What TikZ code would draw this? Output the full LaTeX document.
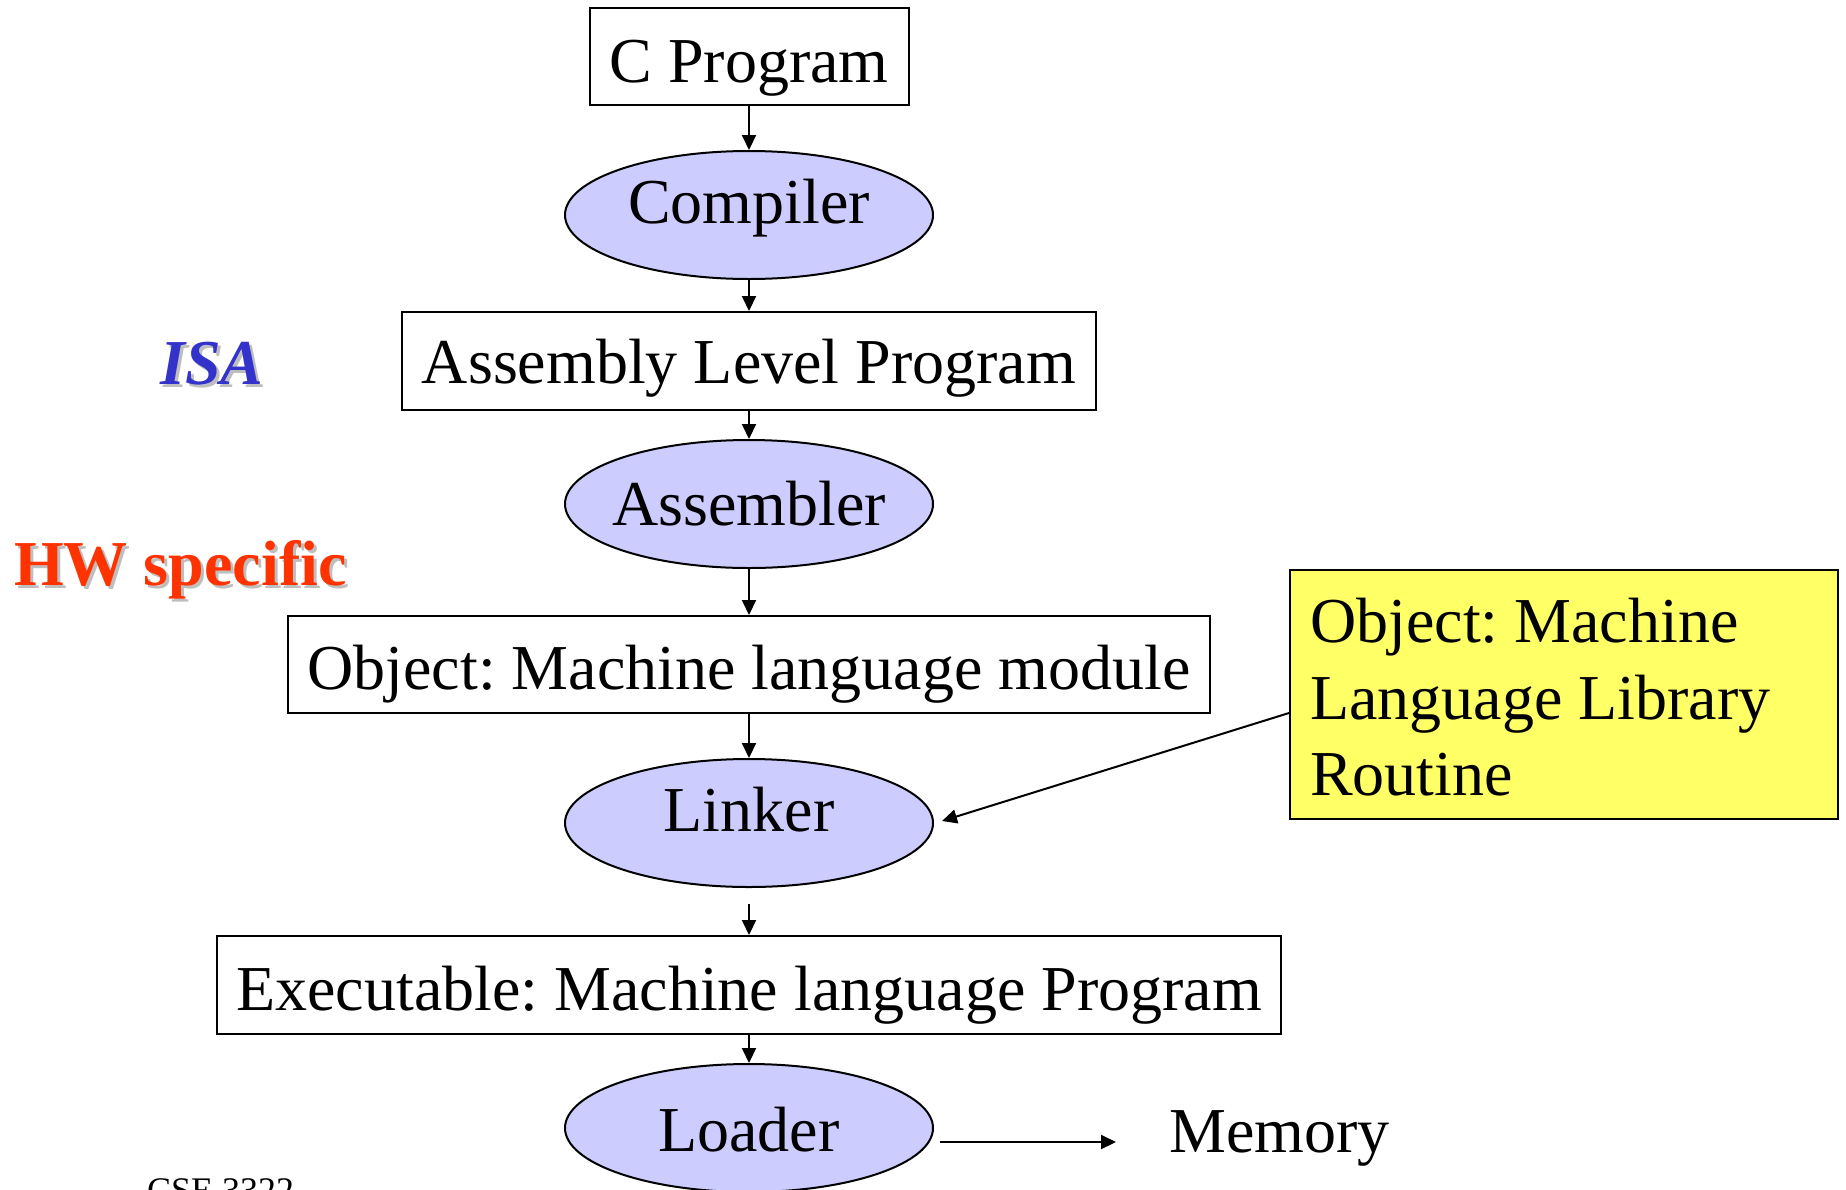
\documentclass[tikz,border=0pt]{standalone}
\usepackage{fontspec}
\setmainfont{Liberation Serif}
\frenchspacing
\usetikzlibrary{shapes.geometric,arrows.meta}
\definecolor{lav}{RGB}{204,204,255}
\definecolor{libyellow}{RGB}{255,255,102}
\definecolor{isablue}{RGB}{51,51,204}
\definecolor{hwred}{RGB}{255,51,0}
\definecolor{shadowgray}{RGB}{190,190,190}
\tikzset{
  box/.style={draw=black, line width=2pt, fill=white, inner sep=0pt, font=\fontsize{64}{76.5}\selectfont},
  oval/.style={ellipse, draw=black, line width=2pt, fill=lav, inner sep=0pt, minimum width=368pt, minimum height=128pt, font=\fontsize{64}{76.5}\selectfont},
  conn/.style={line width=2pt, -{Triangle[length=15pt,width=14pt]}},
  lbl/.style={inner sep=0pt, anchor=base west, font=\fontsize{64}{76.5}\selectfont},
}
\begin{document}
\begin{tikzpicture}[x=1pt,y=-1pt]
\useasboundingbox (0,0) rectangle (1846,1189);
% boxes
\node[box, minimum width=319pt, minimum height=97pt, text height=65.5pt, text depth=14.5pt] (cprog) at (749,56.5) {C Program};
\node[oval, text height=48.5pt, text depth=31.5pt] (comp) at (749,215) {\makebox[0pt]{Compiler}};
\node[box, minimum width=694pt, minimum height=98pt, text height=62pt, text depth=18pt] (asm) at (749,361) {Assembly Level Program};
\node[oval, text height=61pt, text depth=19pt] (assembler) at (749,504) {\makebox[0pt]{Assembler}};
\node[box, minimum width=922pt, minimum height=97pt, text height=64.5pt, text depth=15.5pt] (obj) at (749,664.5) {Object: Machine language module};
\node[oval, text height=48pt, text depth=32pt] (linker) at (749,823) {\makebox[0pt]{Linker}};
\node[box, minimum width=1064pt, minimum height=98pt, text height=65pt, text depth=15pt] (exe) at (749,985) {Executable: Machine language Program};
\node[oval, text height=63pt, text depth=17pt] (loader) at (749,1128) {\makebox[0pt]{Loader}};
% library box
\node[box, fill=libyellow, minimum width=548pt, minimum height=249pt, anchor=north west] (lib) at (1289,569) {};
\node[inner sep=0pt, anchor=north west, align=left, font=\fontsize{64}{76.5}\selectfont] (libtext) at (1310,598) {Object: Machine\\Language Library\\Routine};
% labels
\node[lbl, text=shadowgray, font=\fontsize{64}{76.5}\selectfont\bfseries\itshape] (isashadow) at (163,387) {ISA};
\node[lbl, text=isablue, font=\fontsize{64}{76.5}\selectfont\bfseries\itshape] (isa) at (160,384) {ISA};
\node[lbl, text=shadowgray, font=\fontsize{64}{76.5}\selectfont\bfseries] (hwshadow) at (17,588) {HW specific};
\node[lbl, text=hwred, font=\fontsize{64}{76.5}\selectfont\bfseries] (hw) at (14,585) {HW specific};
\node[lbl] (mem) at (1169,1152) {Memory};
\node[lbl, font=\fontsize{36}{43}\selectfont] (cse) at (147,1202) {CSE 3322};
% connectors
\coordinate (lktail) at (749,904);
\coordinate (lkhead) at (942,821);
\coordinate (memtail) at (940,1142);
\coordinate (memhead) at (1116,1142);
\draw[conn] (cprog.south) -- (comp.north);
\draw[conn] (comp.south) -- (asm.north);
\draw[conn] (asm.south) -- (assembler.north);
\draw[conn] (assembler.south) -- (obj.north);
\draw[conn] (obj.south) -- (linker.north);
\draw[conn] (lktail) -- (exe.north);
\draw[conn] (exe.south) -- (loader.north);
\draw[conn] (lib.west |- 0,713) -- (lkhead);
\draw[conn] (memtail) -- (memhead);
\end{tikzpicture}
\end{document}
